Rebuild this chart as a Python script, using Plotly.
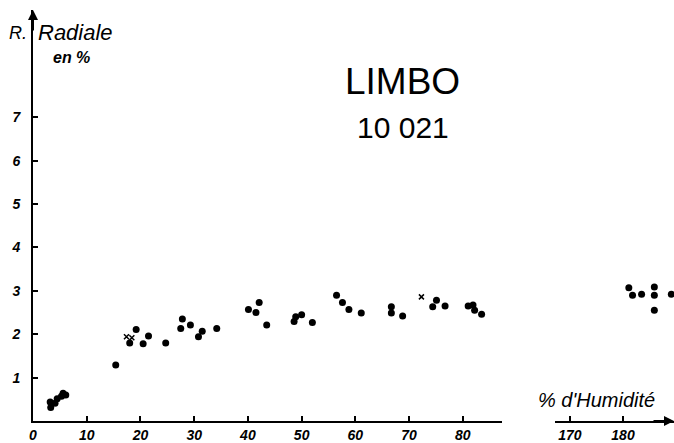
import plotly.graph_objects as go

# Humidity (%) and radial shrinkage (%) — left part of broken axis
hum_a = [3.2, 3.3, 4.1, 4.5, 5.3, 5.6, 6.1, 15.4, 18.0, 19.2, 20.5, 21.5, 24.7,
         27.5, 27.8, 29.3, 30.8, 31.5, 34.2, 40.1, 41.5, 42.1, 43.5, 48.6, 48.9,
         50.0, 52.0, 56.5, 57.6, 58.8, 61.1, 66.7, 66.7, 68.8, 74.4, 75.1, 76.7,
         81.0, 81.9, 82.2, 83.5]
rad_a = [0.44, 0.31, 0.41, 0.51, 0.57, 0.64, 0.60, 1.29, 1.80, 2.11, 1.78, 1.96, 1.80,
         2.13, 2.35, 2.21, 1.94, 2.07, 2.13, 2.57, 2.50, 2.73, 2.21, 2.29, 2.40,
         2.45, 2.27, 2.90, 2.73, 2.57, 2.49, 2.63, 2.49, 2.42, 2.63, 2.78, 2.65,
         2.65, 2.67, 2.55, 2.46]
# right part of broken axis
hum_b = [181.1, 181.8, 183.5, 185.9, 185.9, 185.9, 189.1]
rad_b = [3.07, 2.90, 2.92, 3.09, 2.90, 2.55, 2.92]
# small crossed marks
hum_c = [17.4, 18.4, 72.3]
rad_c = [1.94, 1.92, 2.86]

x_ticks_a = [0, 10, 20, 30, 40, 50, 60, 70, 80]
x_ticks_b = [170, 180]
y_ticks = [1, 2, 3, 4, 5, 6, 7]

FONT = "Liberation Sans"
tickfont = dict(family=FONT, size=14, color="black", style="italic", weight="bold")

fig = go.Figure()
fig.add_trace(go.Scatter(x=hum_a, y=rad_a, mode="markers", xaxis="x", yaxis="y",
                         marker=dict(color="black", size=7), showlegend=False))
fig.add_trace(go.Scatter(x=hum_c, y=rad_c, mode="markers", xaxis="x", yaxis="y",
                         marker=dict(color="black", size=5, symbol="x-thin-open",
                                     line=dict(width=1.5, color="black")), showlegend=False))
fig.add_trace(go.Scatter(x=hum_b, y=rad_b, mode="markers", xaxis="x2", yaxis="y",
                         cliponaxis=False,
                         marker=dict(color="black", size=7), showlegend=False))

axis_common = dict(showline=True, linecolor="black", linewidth=2, ticks="inside",
                   ticklen=5, tickwidth=1.5, tickcolor="black", showgrid=False,
                   zeroline=False, tickfont=tickfont)

fig.update_layout(
    width=674, height=443,
    margin=dict(l=33, r=0, t=10, b=20),
    paper_bgcolor="white", plot_bgcolor="white",
    xaxis=dict(domain=[0, 0.7317], range=[0, 87.3], tickvals=x_ticks_a,
               anchor="y", **axis_common),
    xaxis2=dict(domain=[0.8143, 1], range=[167.2, 189.6], tickvals=x_ticks_b,
                anchor="y", **axis_common),
    yaxis=dict(range=[0, 9.47], tickvals=y_ticks, anchor="x", ticklabelstandoff=8,
               **axis_common),
    annotations=[
        dict(x=68.8, y=7.82, xref="x", yref="y", text="LIMBO", showarrow=False,
             font=dict(family=FONT, size=37, color="black")),
        dict(x=68.8, y=6.77, xref="x", yref="y", text="10 021", showarrow=False,
             font=dict(family=FONT, size=30, color="black")),
        dict(x=175.0, y=0.48, xref="x2", yref="y", text="% d'Humidité", showarrow=False,
             font=dict(family=FONT, size=20, color="black", style="italic")),
        # y-axis title
        dict(x=0, y=(423 - 33) / 43.6, xref="x", yref="y", text="R.", showarrow=False,
             xanchor="right", xshift=-4,
             font=dict(family=FONT, size=18, color="black", style="italic")),
        dict(x=0, y=(423 - 33) / 43.6, xref="x", yref="y", text="Radiale", showarrow=False,
             xanchor="left", xshift=3,
             font=dict(family=FONT, size=22, color="black", style="italic")),
        dict(x=0, y=(423 - 58) / 43.6, xref="x", yref="y", text="en %", showarrow=False,
             xanchor="left", xshift=18,
             font=dict(family=FONT, size=16, color="black", style="italic", weight="bold")),
        # axis arrows
        dict(x=0, y=9.47, xref="x", yref="y", ax=0, ay=22, text="", showarrow=True,
             arrowhead=2, arrowsize=1, arrowwidth=2, arrowcolor="black"),
        dict(x=189.6, y=0, xref="x2", yref="y", ax=-22, ay=0, text="", showarrow=True,
             arrowhead=2, arrowsize=1, arrowwidth=2, arrowcolor="black"),
    ],
)

fig.write_html("out.html", config={"displayModeBar": False},
               post_script="document.body.style.margin='0';")
